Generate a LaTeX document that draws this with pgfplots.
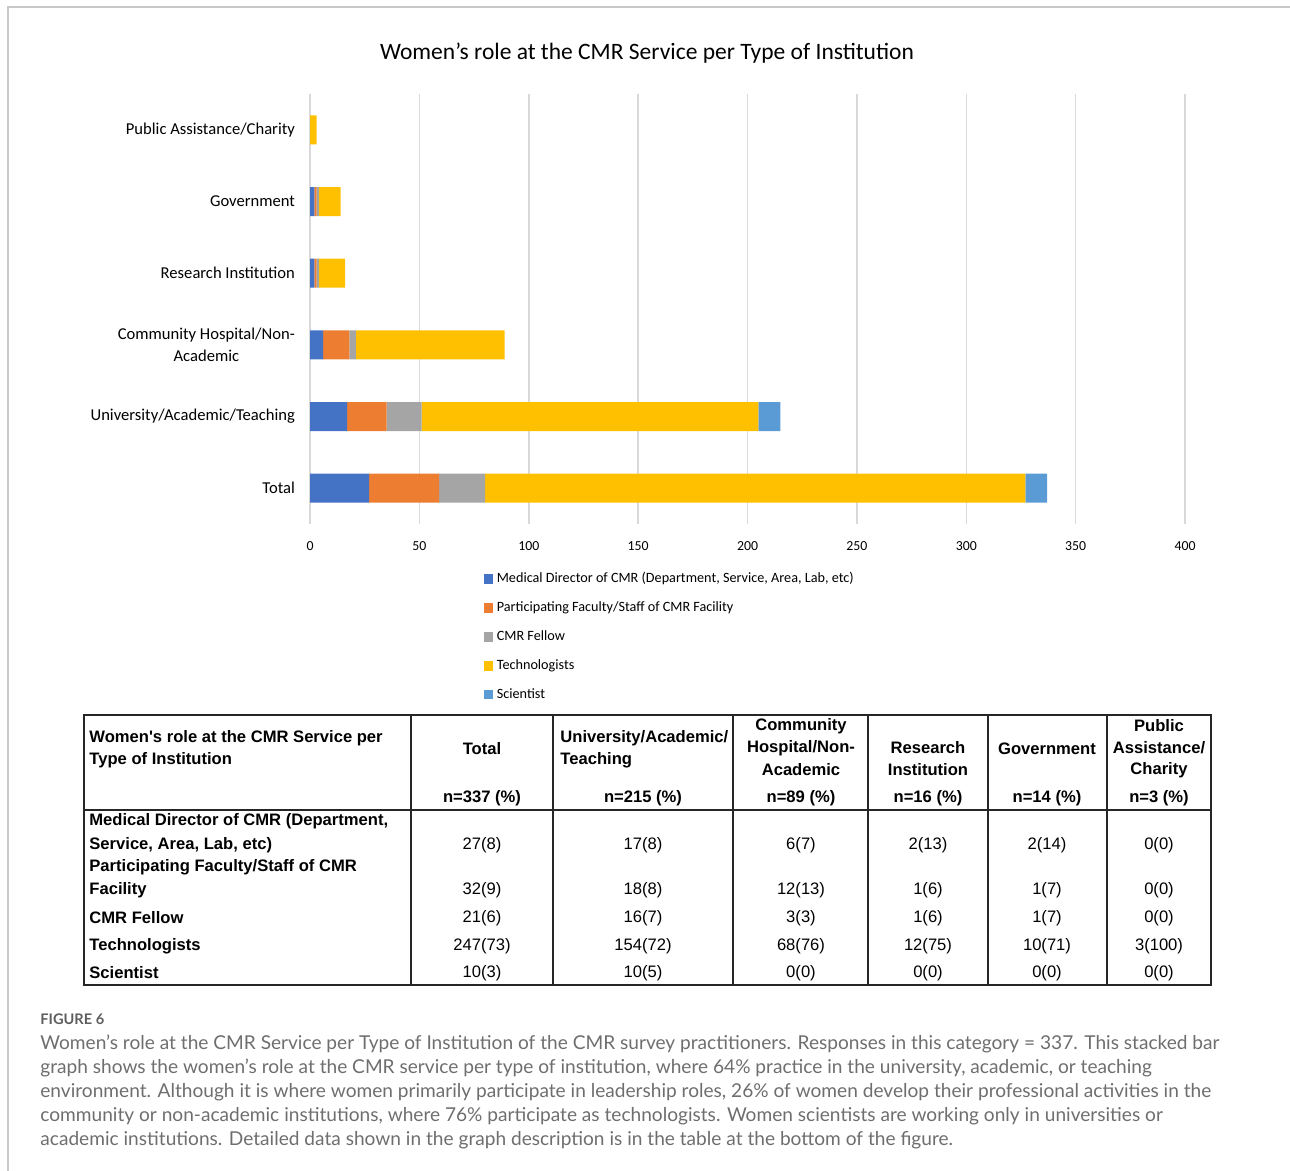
\documentclass[border=0pt]{standalone}
\usepackage{pgfplots}
\pgfplotsset{compat=1.18}
\usepackage{fontspec}
\setmainfont{Carlito}
\newfontfamily\arialf{Liberation Sans}
\newfontfamily\capfont{Lato}
\definecolor{cBlue}{HTML}{4472C4}
\definecolor{cOrange}{HTML}{ED7D31}
\definecolor{cGray}{HTML}{A5A5A5}
\definecolor{cGold}{HTML}{FFC000}
\definecolor{cLight}{HTML}{5B9BD5}
\definecolor{gridc}{HTML}{D9D9D9}
\definecolor{capgray}{HTML}{6E6E6E}
\definecolor{framec}{HTML}{C8C8C8}
\begin{document}
\begin{tikzpicture}
\path[use as bounding box] (0,0) rectangle (645pt,-585.5pt);
\begin{scope}[x=0.5pt,y=-0.5pt]
\draw[line width=1pt, framec] (8,1171) -- (8,7) -- (1290,7);
\node[font=\fontsize{11.75}{13}\selectfont, inner sep=0pt] at (647,53) {Women\char39 s role at the CMR Service per Type of Institution};
\end{scope}

\begin{axis}[
  at={(155pt,-262pt)}, anchor=south west,
  scale only axis, width=437.5pt, height=215pt,
  xbar stacked, bar width=14.5pt,
  xmin=0, xmax=400, ymin=-0.5, ymax=5.5,
  xtick={0,50,...,400},
  ytick={0,...,5},
  yticklabels={Total, University/Academic/Teaching, {Community Hospital/Non-\\Academic}, Research Institution, Government, Public Assistance/Charity},
  xmajorgrids, grid style={gridc, line width=0.75pt},
  axis line style={draw=none},
  major tick length=0pt,
  xticklabel style={font=\fontsize{6.9}{8}\selectfont, yshift=-5pt},
  yticklabel style={align=center, font=\fontsize{8.3}{11}\selectfont, xshift=-4pt},
  /pgf/number format/assume math mode=true,
  legend style={at={(0.198,-0.102)}, anchor=north west, draw=none, fill=none, inner sep=0pt,
    font=\fontsize{7.1}{8}\selectfont, row sep=4pt},
  legend cell align=left,
  legend image code/.code={\fill[#1] (0pt,-2.4pt) rectangle (4.6pt,2.4pt);},
]
\addplot[fill=cBlue, draw=none] coordinates {(27,0) (17,1) (6,2) (2,3) (2,4) (0,5)};
\addlegendentry{Medical Director of CMR (Department, Service, Area, Lab, etc)}
\addplot[fill=cOrange, draw=none] coordinates {(32,0) (18,1) (12,2) (1,3) (1,4) (0,5)};
\addlegendentry{Participating Faculty/Staff of CMR Facility}
\addplot[fill=cGray, draw=none] coordinates {(21,0) (16,1) (3,2) (1,3) (1,4) (0,5)};
\addlegendentry{CMR Fellow}
\addplot[fill=cGold, draw=none] coordinates {(247,0) (154,1) (68,2) (12,3) (10,4) (3,5)};
\addlegendentry{Technologists}
\addplot[fill=cLight, draw=none] coordinates {(10,0) (10,1) (0,2) (0,3) (0,4) (0,5)};
\addlegendentry{Scientist}
\end{axis}

\begin{scope}[x=0.5pt,y=-0.5pt]
% table
\draw[line width=1pt, black!85] (84,715) rectangle (1211,985);
\draw[line width=1pt, black!85] (84,810) -- (1211,810);
\foreach \xx in {411,553,733,868,988,1107} {\draw[line width=1pt, black!85] (\xx,715) -- (\xx,985);}
\begin{scope}[every node/.style={inner sep=0pt, font=\arialf\bfseries\fontsize{8.3}{11}\selectfont}]
\node[anchor=west] at (89,738) {Women\char39 s role at the CMR Service per};
\node[anchor=west] at (89,760) {Type of Institution};
\node at (482,749) {Total};
\node[anchor=west] at (560,738) {University/Academic/};
\node[anchor=west] at (560,760) {Teaching};
\node at (801,726) {Community};
\node at (801,748) {Hospital/Non-};
\node at (801,770) {Academic};
\node at (928,748) {Research};
\node at (928,770) {Institution};
\node at (1047,749) {Government};
\node at (1159,726) {Public};
\node at (1159,748) {Assistance/};
\node at (1159,770) {Charity};
\node at (482,798) {n=337 (\%)};
\node at (643,798) {n=215 (\%)};
\node at (801,798) {n=89 (\%)};
\node at (928,798) {n=16 (\%)};
\node at (1047,798) {n=14 (\%)};
\node at (1159,798) {n=3 (\%)};
\node[anchor=west] at (89,821) {Medical Director of CMR (Department,};
\node[anchor=west] at (89,845) {Service, Area, Lab, etc)};
\node[anchor=west] at (89,867) {Participating Faculty/Staff of CMR};
\node[anchor=west] at (89,890) {Facility};
\node[anchor=west] at (89,918) {CMR Fellow};
\node[anchor=west] at (89,946) {Technologists};
\node[anchor=west] at (89,973) {Scientist};
\end{scope}
\begin{scope}[every node/.style={inner sep=0pt, font=\arialf\fontsize{8.3}{11}\selectfont}]
\node at (482,845) {27(8)};  \node at (643,845) {17(8)};  \node at (801,845) {6(7)};   \node at (928,845) {2(13)}; \node at (1047,845) {2(14)}; \node at (1159,845) {0(0)};
\node at (482,890) {32(9)};  \node at (643,890) {18(8)};  \node at (801,890) {12(13)}; \node at (928,890) {1(6)};  \node at (1047,890) {1(7)};  \node at (1159,890) {0(0)};
\node at (482,918) {21(6)};  \node at (643,918) {16(7)};  \node at (801,918) {3(3)};   \node at (928,918) {1(6)};  \node at (1047,918) {1(7)};  \node at (1159,918) {0(0)};
\node at (482,946) {247(73)};\node at (643,946) {154(72)};\node at (801,946) {68(76)}; \node at (928,946) {12(75)};\node at (1047,946) {10(71)};\node at (1159,946) {3(100)};
\node at (482,973) {10(3)};  \node at (643,973) {10(5)};  \node at (801,973) {0(0)};   \node at (928,973) {0(0)};  \node at (1047,973) {0(0)};  \node at (1159,973) {0(0)};
\end{scope}
% caption
\node[anchor=west, inner sep=0pt, text=capgray!85!black, font=\capfont\bfseries\fontsize{7.3}{8}\selectfont] at (40,1019) {FIGURE 6};
\begin{scope}[every node/.style={anchor=west, inner sep=0pt, text=capgray, font=\capfont\fontsize{9.55}{12}\selectfont}]
\node at (40,1044) {Women’s role at the CMR Service per Type of Institution of the CMR survey practitioners. Responses in this category = 337. This stacked bar};
\node at (40,1068) {graph shows the women’s role at the CMR service per type of institution, where 64\% practice in the university, academic, or teaching};
\node at (40,1092) {environment. Although it is where women primarily participate in leadership roles, 26\% of women develop their professional activities in the};
\node at (40,1116) {community or non-academic institutions, where 76\% participate as technologists. Women scientists are working only in universities or};
\node at (40,1140) {academic institutions. Detailed data shown in the graph description is in the table at the bottom of the figure.};
\end{scope}
\end{scope}
\end{tikzpicture}
\end{document}
